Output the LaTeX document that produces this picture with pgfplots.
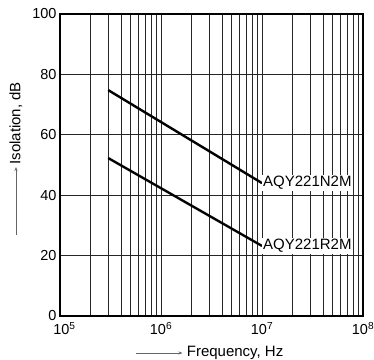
\documentclass[border=0pt]{standalone}
\usepackage{pgfplots}
\pgfplotsset{compat=1.18}
\usepackage{fontspec}
\setmainfont{Liberation Sans}
\usetikzlibrary{arrows.meta}
\begin{document}
\begin{tikzpicture}
\begin{axis}[
  name=ax,
  scale only axis,
  width=303pt, height=302pt,
  xmode=log,
  xmin=1e5, xmax=1e8,
  ymin=0, ymax=100,
  xtick={1e5,1e6,1e7,1e8},
  xticklabels={\hspace*{9pt}10\textsuperscript{5},10\textsuperscript{6},10\textsuperscript{7},10\textsuperscript{8}},
  ytick={0,20,40,60,80,100},
  yticklabels={0,20,40,60,80,100},
  grid=both,
  major grid style={black!85, line width=0.6pt},
  minor grid style={black!85, line width=0.6pt},
  axis line style={line width=1.4pt},
  major tick length=0pt, minor tick length=0pt,
  tick label style={font=\fontsize{14.5}{16}\selectfont},
  xticklabel style={yshift=-3pt},
]
\addplot[black, line width=2.4pt] coordinates {(3e5,74.8) (1e7,44)};
\addplot[black, line width=2.4pt] coordinates {(3e5,52.3) (1e7,23.2)};
\node[anchor=west, fill=white, inner sep=1pt, font=\fontsize{15}{17}\selectfont] at (axis cs:1e7,44) {AQY221N2M};
\node[anchor=west, fill=white, inner sep=1pt, font=\fontsize{15}{17}\selectfont] at (axis cs:1e7,23.2) {AQY221R2M};
\end{axis}
\pgfresetboundingbox
\path[use as bounding box] ([shift={(-60pt,-44pt)}]ax.south west) rectangle ([shift={(11pt,14pt)}]ax.north east);
\draw[black!60, line width=0.7pt, -{Stealth[length=4pt,width=3pt]}] ([xshift=-76pt,yshift=-37pt]ax.south) -- ++(47pt,0)
  node[right, black, inner sep=4pt, font=\fontsize{15}{17}\selectfont] {Frequency, Hz};
\draw[black!60, line width=0.7pt, -{Stealth[length=4pt,width=3pt]}] ([xshift=-44pt,yshift=81pt]ax.south west) -- ++(0,68pt)
  node[anchor=west, rotate=90, black, inner sep=2pt, font=\fontsize{15}{17}\selectfont] {Isolation, dB};
\end{tikzpicture}
\end{document}
